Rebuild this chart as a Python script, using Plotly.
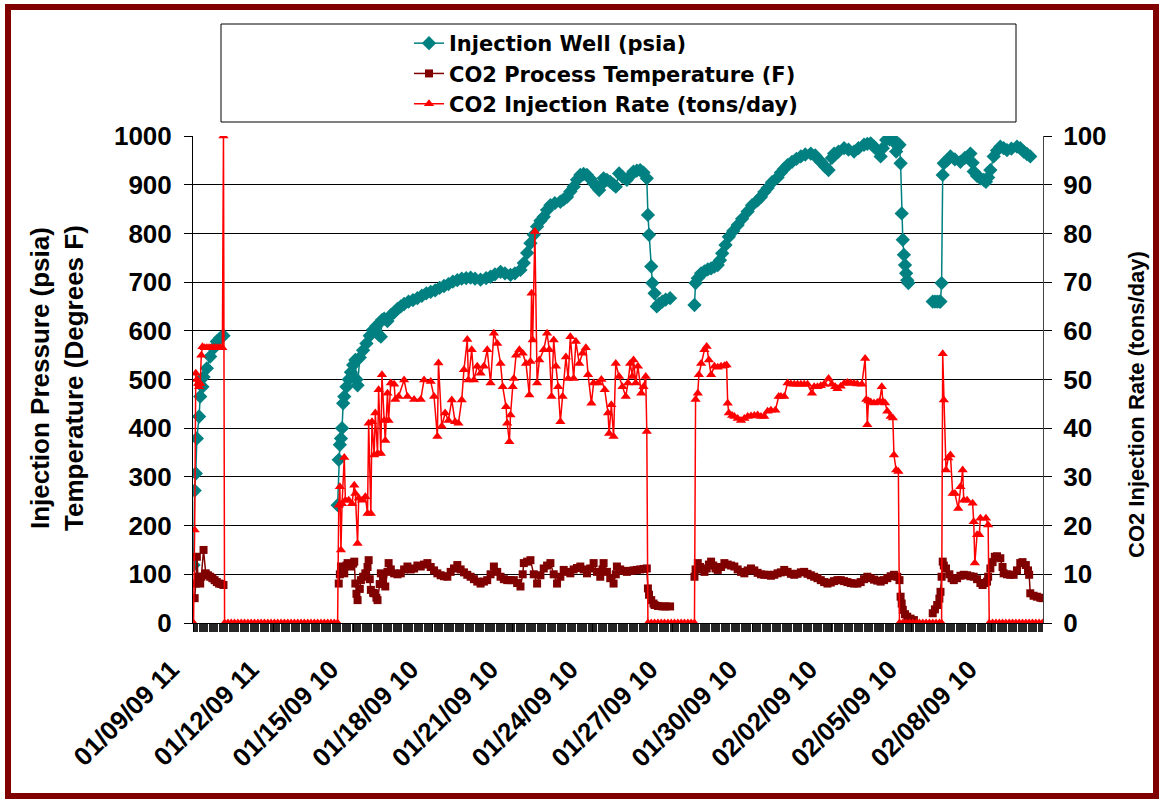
import plotly.graph_objects as go

# ---------------- data (category index = hourly reading number) ----------------
TICK_IDX = [0, 72, 144, 216, 288, 360, 432, 504, 576, 648, 720]
TICK_TEXT = ["01/09/09 11", "01/12/09 11", "01/15/09 10", "01/18/09 10", "01/21/09 10",
             "01/24/09 10", "01/27/09 10", "01/30/09 10", "02/02/09 10", "02/05/09 10",
             "02/08/09 10"]

# Injection well pressure (psia) - segments separated by None
WELL_IDX = [0, 1, 2, 3, 5, 6, 8, 9, 12, 15, 18, 21, 24, 27,
            28,
            130, 131, 132, 133, 134, 135, 136, 138, 140, 142, 144, 146, 147, 148, 150, 153, 156,
            159, 162, 165, 167, 169, 170, 172, 175, 178, 181, 184, 187, 190, 194, 198, 202, 206,
            210, 214, 218, 222, 226, 230, 234, 238, 242, 246, 250, 254, 259, 264, 268, 272, 277,
            281, 286, 290, 295, 298, 301, 304, 307, 310, 313, 316, 319, 322, 326, 331, 334, 337,
            340, 343, 346, 349, 352, 355, 358, 361, 364, 366, 368, 370, 373, 376, 379, 381, 384,
            387, 391, 394, 397, 400, 403, 406, 409, 410, 411, 413, 414, 416, 418, 420, 423, 426, 430,
            431,
            452, 453, 455, 458, 461, 464, 467, 470, 473, 475, 477, 480, 483, 487, 491, 495, 500,
            504, 509, 512, 515, 518, 522, 527, 530, 533, 536, 540, 544, 548, 552, 557, 561, 564,
            566, 570, 573, 576, 578, 582, 587, 591, 596, 600, 605, 608, 611, 614, 617, 620, 622,
            625, 628, 631, 633, 634, 636, 637, 638, 639, 640, 641, 642, 643, 644, 645,
            646,
            667, 669, 671, 673, 674, 675, 676, 677, 680, 683, 687, 692, 696, 701, 703, 704, 707,
            710, 713, 715, 717, 719, 722, 725, 728, 731, 734, 738, 743, 746, 749, 752, 755]
WELL_PSIA = [119, 272, 307, 379, 424, 465, 485, 505, 523, 547, 564, 578, 585, 590,
             None,
             242, 335, 366, 379, 400, 451, 465, 485, 500, 515, 530, 540, 500, 488, 545, 560, 574,
             590, 602, 610, 592, 588, 622, 625, 620, 632, 638, 645, 650, 655, 660, 663, 667, 672,
             677, 680, 683, 688, 692, 696, 701, 704, 707, 708, 709, 707, 705, 708, 711, 716, 721,
             718, 715, 718, 725, 739, 760, 780, 797, 814, 826, 834, 848, 858, 862, 865, 870, 875,
             886, 896, 910, 920, 922, 920, 912, 903, 895, 889, 900, 913, 910, 906, 900, 896, 923,
             916, 910, 918, 927, 929, 930, 925, 913, 838, 797, 732, 698, 677, 650, 655, 660, 664, 667,
             None,
             653, 698, 708, 718, 722, 726, 728, 732, 735, 745, 759, 776, 793, 805, 817, 830, 845,
             858, 868, 875, 885, 893, 905, 915, 925, 933, 940, 947, 953, 958, 962, 964, 960, 952,
             947, 937, 930, 955, 964, 968, 975, 972, 968, 975, 982, 984, 985, 978, 971, 958, 975,
             992, 993, 995, 985, 968, 980, 982, 944, 841, 787, 756, 735, 718, 704, 698,
             None,
             660, 660, 660, 660, 660, 698, 920, 944, 950, 958, 952, 947, 955, 964, 945, 927, 918,
             913, 910, 906, 915, 930, 958, 970, 978, 975, 971, 974, 978, 975, 968, 963, 958]

# CO2 process temperature (F)
TEMP_IDX = [1, 2, 3, 4, 6, 7, 9, 11, 13, 15, 17, 19, 21, 23, 25, 27,
            28,
            131, 132, 133, 135, 136, 138, 139, 141, 142, 144, 145, 146, 147, 148, 150, 151, 153,
            155, 157, 158, 159, 160, 162, 163, 165, 166, 168, 169, 171, 173, 175, 176, 178, 181,
            184, 187, 190, 193, 196, 199, 202, 205, 208, 211, 214, 217, 220, 223, 226, 229, 232,
            235, 238, 241, 244, 247, 250, 253, 256, 259, 262, 265, 268, 271, 274, 277, 280, 283,
            286, 289, 292, 295, 297, 298, 301, 304, 307, 310, 313, 316, 319, 322, 325, 328, 331,
            334, 337, 340, 343, 346, 349, 352, 355, 358, 361, 364, 367, 369, 370, 373, 376, 379,
            381, 382, 385, 388, 391, 394, 397, 400, 403, 406, 409, 410, 411, 413, 415, 416, 419,
            423, 426, 430,
            431,
            452, 453, 455, 457, 459, 461, 463, 465, 467, 469, 471, 473, 476, 479, 482, 485, 488,
            491, 494, 497, 500, 503, 506, 509, 512, 515, 518, 521, 524, 527, 530, 533, 536, 539,
            542, 545, 548, 551, 554, 557, 560, 563, 566, 569, 572, 575, 578, 581, 584, 587, 590,
            593, 596, 599, 602, 605, 608, 611, 614, 617, 620, 623, 626, 629, 632, 635, 637, 638,
            639, 640, 642, 644, 647, 650,
            651,
            667, 669, 671, 673, 674, 675, 676, 677, 679, 682, 684, 686, 689, 692, 695, 698, 701,
            704, 707, 710, 712, 714, 716, 717, 719, 721, 723, 725, 728, 730, 731, 734, 737, 740,
            743, 746, 748, 751, 753, 754, 755, 758, 761, 764, 766]
TEMP_F = [51, 81, 136, 95, 81, 95, 150, 102, 98, 95, 92, 88, 84, 81, 80, 78,
          None,
          81, 100, 116, 110, 102, 118, 123, 118, 116, 122, 126, 81, 60, 47, 70, 88, 95,
          102, 115, 129, 90, 68, 62, 61, 52, 47, 80, 102, 90, 75, 105, 123, 110, 102,
          100, 102, 110, 116, 110, 112, 118, 116, 120, 123, 115, 108, 102, 98, 96, 95, 105,
          112, 119, 110, 104, 99, 95, 90, 85, 81, 85, 88, 100, 116, 105, 95, 90, 88,
          88, 88, 82, 75, 100, 123, 126, 129, 100, 81, 98, 112, 118, 123, 100, 81, 95,
          109, 105, 102, 110, 113, 116, 110, 102, 112, 123, 105, 95, 110, 123, 105, 92, 81,
          100, 116, 110, 107, 105, 107, 108, 109, 110, 111, 112, 71, 58, 47, 40, 37, 35,
          34, 34, 34,
          None,
          95, 110, 123, 115, 110, 105, 112, 120, 126, 118, 112, 109, 115, 123, 120, 118, 116,
          110, 105, 102, 108, 112, 108, 103, 100, 99, 99, 97, 99, 102, 104, 109, 105, 101,
          99, 101, 104, 105, 101, 98, 95, 92, 88, 84, 81, 83, 86, 88, 88, 86, 84,
          82, 81, 81, 84, 90, 95, 92, 89, 87, 85, 88, 92, 96, 99, 95, 88, 54,
          40, 27, 18, 13, 9, 6,
          None,
          20, 28, 37, 50, 64, 95, 126, 118, 112, 100, 92, 88, 92, 97, 99, 98, 96,
          95, 90, 82, 78, 82, 85, 95, 112, 125, 136, 137, 133, 115, 102, 100, 99, 99,
          108, 123, 125, 119, 108, 99, 61, 56, 54, 52, 51]

# CO2 injection rate (tons/day)
RATE_IDX = [0, 1, 2, 3, 4, 5, 6, 7, 8, 10, 12, 14, 16, 18, 20, 22, 24, 26, 27,
            28, 31, 34, 37, 40, 43, 46, 49, 52, 55, 58, 61, 64, 67, 70, 73, 76, 79, 82, 85, 88,
            91, 94, 97, 100, 103, 106, 109, 112, 115, 118, 121, 124, 127, 130,
            131, 132, 133, 134, 136, 137, 140, 143, 145, 146, 148, 149, 152, 155, 157, 158, 160,
            161, 163, 164, 166, 167, 169, 170, 172, 173, 175, 176, 178, 181, 182, 185, 190, 193,
            199, 205, 208, 214, 217, 220, 221, 224, 227, 230, 233, 236, 239, 242, 244, 247, 248,
            251, 253, 256, 259, 262, 265, 268, 271, 274, 277, 279, 282, 283, 285, 286, 288, 289,
            291, 294, 297, 300, 303, 304, 305, 306, 308, 310, 312, 316, 319, 321, 323, 325, 327,
            329, 331, 333, 336, 338, 340, 343, 345, 348, 351, 354, 356, 359, 361, 365, 368, 371,
            374, 375, 377, 379, 381, 384, 387, 390, 392, 394, 396, 397, 399, 401, 404, 406, 408,
            409,
            410, 413, 416, 419, 422, 425, 428, 431, 434, 437, 440, 443, 446, 449, 452,
            453, 455, 456, 458, 461, 463, 465, 467, 470, 473, 476, 479, 481, 482, 483, 486, 488,
            491, 494, 497, 500, 503, 506, 509, 512, 515, 518, 521, 525, 528, 530, 533, 536, 539,
            542, 545, 548, 551, 554, 558, 560, 563, 566, 569, 573, 576, 579, 581, 584, 587, 590,
            593, 596, 599, 603, 606, 607, 608, 609, 611, 614, 617, 619, 621, 622, 624, 626, 629,
            631, 632, 634, 636,
            637, 640, 643, 646, 649, 652, 655, 658, 661, 664, 667, 670, 673, 675,
            676, 677, 679, 681, 683, 685, 687, 690, 692, 694, 695, 698, 703, 704, 705, 707, 709,
            710, 715, 717,
            718, 721, 724, 727, 730, 733, 736, 739, 742, 745, 748, 751, 754, 757, 760, 763, 766]
RATE_TPD = [0, 19.1, 51.3, 50.0, 49.2, 48.5, 49.2, 55.0, 56.7, 56.5, 56.5, 56.5, 56.5, 56.5,
            56.5, 56.5, 56.5, 56.5, 100,
            0, 0, 0, 0, 0, 0, 0, 0, 0, 0, 0, 0, 0, 0, 0, 0, 0, 0, 0, 0, 0,
            0, 0, 0, 0, 0, 0, 0, 0, 0, 0, 0, 0, 0, 0,
            24.2, 28.0, 15.0, 24.5, 34.0, 25.2, 25.2, 24.5, 28.3, 26.6, 16.3, 25.6, 25.2, 25.9,
            22.5, 41.0, 22.5, 41.3, 34.5, 43.1, 34.8, 47.9, 34.8, 51.0, 41.6, 37.5, 47.2, 41.6,
            49.3, 49.0, 45.9, 46.5, 49.9, 46.5, 45.9, 45.9, 49.9, 49.6, 46.5, 38.3, 53.4, 40.4,
            43.1, 41.6, 45.8, 41.3, 41.0, 45.8, 52.0, 58.2, 49.9, 56.1, 49.9, 52.7, 51.3, 52.7,
            56.1, 49.3, 59.5, 57.4, 53.3, 48.5, 44.4, 41.0, 37.2, 42.7, 48.5, 50.2, 55.0, 56.1,
            55.4, 53.3, 46.8, 53.7, 67.7, 58.1, 80.4, 49.3, 54.0, 56.1, 59.5, 56.1, 46.5, 58.1,
            52.7, 48.5, 41.3, 46.5, 54.6, 50.2, 58.8, 50.2, 57.8, 53.3, 55.4, 56.5, 51.0, 45.1,
            49.3, 49.3, 50.0, 47.9, 43.1, 38.9, 44.8, 38.3, 53.3, 50.6, 48.5, 46.5, 49.3, 53.3,
            50.6, 54.0, 49.3, 52.7, 47.2, 48.5, 50.6, 39.3,
            0, 0, 0, 0, 0, 0, 0, 0, 0, 0, 0, 0, 0, 0, 0,
            45.9, 47.2, 51.0, 53.3, 56.1, 56.8, 54.0, 51.0, 52.7, 52.5, 52.7, 52.8, 53.0, 45.1,
            43.1, 42.6, 42.4, 42.0, 41.6, 42.0, 42.4, 42.5, 42.6, 42.7, 42.4, 42.4, 43.5, 43.7,
            43.7, 46.5, 46.5, 46.5, 49.3, 49.1, 49.0, 49.0, 49.0, 49.0, 49.0, 47.2, 48.5, 48.5,
            48.7, 49.0, 50.2, 49.0, 48.5, 48.1, 48.6, 49.2, 49.4, 49.3, 49.2, 49.1, 49.0, 54.3,
            45.9, 40.7, 45.6, 45.4, 45.2, 45.3, 45.5, 48.5, 45.5, 45.2, 43.5, 42.4, 42.1, 34.5,
            31.4, 31.1,
            0, 0, 0, 0, 0, 0, 0, 0, 0, 0, 0, 0, 0, 0,
            55.3, 45.8, 31.4, 33.9, 34.5, 26.6, 26.6, 23.5, 28.0, 31.4, 25.2, 25.2, 24.6, 20.8,
            12.3, 18.1, 18.1, 21.5, 21.5, 20.1,
            0, 0, 0, 0, 0, 0, 0, 0, 0, 0, 0, 0, 0, 0, 0, 0, 0]

# ---------------- figure ----------------
W, H = 1161, 799
L, R, T, B = 193, 118, 136, 176
PW, PH = W - L - R, H - T - B


def px(x):
    return (x - L) / PW


def py(y):
    return (H - B - y) / PH


FONT = "Liberation Sans, Arial, sans-serif"
tickf = dict(family=FONT, size=26, color="black", weight="bold")
legf = dict(family="DejaVu Sans, Liberation Sans, sans-serif", size=21, color="black",
            weight="bold")

fig = go.Figure()
fig.add_trace(go.Scatter(
    x=WELL_IDX, y=WELL_PSIA, name="Injection Well (psia)", mode="lines+markers",
    line=dict(color="#008080", width=1.5),
    marker=dict(symbol="diamond", size=11, color="#008080"), connectgaps=False))
fig.add_trace(go.Scatter(
    x=TEMP_IDX, y=TEMP_F, name="CO2 Process Temperature (F)", mode="lines+markers",
    line=dict(color="#800000", width=1.5),
    marker=dict(symbol="square", size=8, color="#800000"), connectgaps=False))
fig.add_trace(go.Scatter(
    x=RATE_IDX, y=RATE_TPD, name="CO2 Injection Rate (tons/day)", mode="lines+markers",
    line=dict(color="#FF0000", width=1.5),
    marker=dict(symbol="triangle-up", size=9, color="#FF0000"), yaxis="y2"))

fig.update_layout(
    width=W, height=H,
    margin=dict(l=L, r=R, t=T, b=B, autoexpand=False),
    paper_bgcolor="white", plot_bgcolor="white",
    font=tickf,
    showlegend=True,
    legend=dict(x=px(409), y=py(23), xanchor="left", yanchor="top",
                bgcolor="rgba(0,0,0,0)", borderwidth=0, font=legf, tracegroupgap=0),
    xaxis=dict(range=[-0.5, 766.5], tickmode="array", tickvals=TICK_IDX, ticktext=TICK_TEXT,
               tickangle=-45, ticks="outside", ticklen=8, tickcolor="black",
               tickfont=tickf, showgrid=False, zeroline=False,
               showline=True, linecolor="black", linewidth=1,
               ticklabelstandoff=12, ticklabelshift=-22,
               minor=dict(ticks="outside", dtick=1, tick0=0, ticklen=8,
                          tickcolor="#262626", tickwidth=1, showgrid=False)),
    yaxis=dict(range=[0, 1000], dtick=100, tickmode="linear", ticks="outside", ticklen=8,
               tickcolor="black", tickfont=tickf, showgrid=True, gridcolor="black",
               gridwidth=1, zeroline=False, showline=True, linecolor="black",
               linewidth=1, ticklabelstandoff=7),
    yaxis2=dict(range=[0, 100], dtick=10, tickmode="linear", overlaying="y", side="right",
                ticks="outside", ticklen=8, tickcolor="black", tickfont=tickf,
                showgrid=False, zeroline=False, showline=True, linecolor="#444",
                linewidth=1, ticklabelstandoff=6),
    shapes=[
        dict(type="rect", xref="paper", yref="paper", x0=px(221), x1=px(1016),
             y0=py(122), y1=py(24), line=dict(color="black", width=1), layer="above"),
        dict(type="rect", xref="paper", yref="paper", x0=px(8), x1=px(1156),
             y0=py(796), y1=py(7), line=dict(color="#800000", width=6), layer="above"),
    ],
    annotations=[
        dict(text="Injection Pressure (psia)<br>Temperature (Degrees F)",
             xref="paper", yref="paper", x=px(57), y=py(378), textangle=-90,
             showarrow=False, xanchor="center", yanchor="middle",
             font=dict(family=FONT, size=26, color="black", weight="bold")),
        dict(text="CO2 Injection Rate (tons/day)",
             xref="paper", yref="paper", x=px(1136), y=py(405), textangle=-90,
             showarrow=False, xanchor="center", yanchor="middle",
             font=dict(family=FONT, size=22, color="black", weight="bold")),
    ],
)

fig.write_html("out.html",
               config={"displayModeBar": False},
               post_script="document.body.style.margin='0px';document.body.style.padding='0px';")
